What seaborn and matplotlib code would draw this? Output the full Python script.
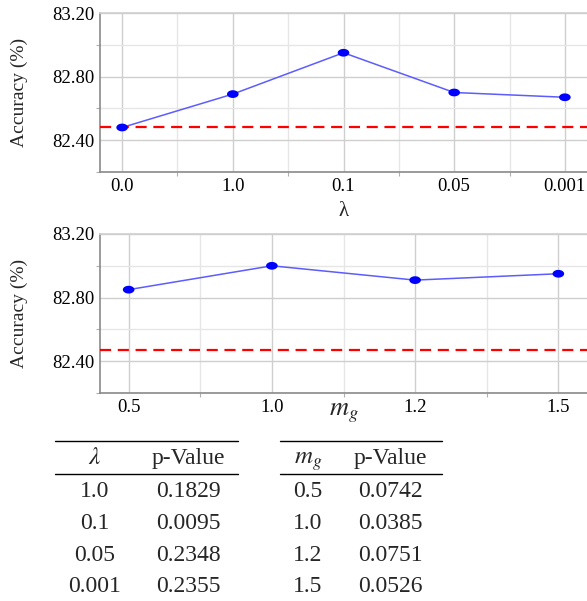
import numpy as np
import pandas as pd
import seaborn as sns
import matplotlib
matplotlib.use("Agg")
import matplotlib.pyplot as plt

# data
lam_labels = ["0.0", "1.0", "0.1", "0.05", "0.001"]
lam_acc = [82.48, 82.69, 82.95, 82.70, 82.67]
lam_base = 82.48

mg_labels = ["0.5", "1.0", "1.2", "1.5"]
mg_acc = [82.85, 83.00, 82.91, 82.95]
mg_base = 82.47

lam_p_labels = ["1.0", "0.1", "0.05", "0.001"]
lam_p = ["0.1829", "0.0095", "0.2348", "0.2355"]
mg_p_labels = ["0.5", "1.0", "1.2", "1.5"]
mg_p = ["0.0742", "0.0385", "0.0751", "0.0526"]

sns.set_theme(style="white")
plt.rcParams["font.family"] = ["Liberation Serif", "DejaVu Serif"]
plt.rcParams["mathtext.fontset"] = "stix"

# ellipse-shaped marker like the original
t = np.linspace(0, 2 * np.pi, 40)
ell = list(zip(1.5 * np.cos(t), np.sin(t)))

W, H = 587, 601
fig = plt.figure(figsize=(W / 100, H / 100), dpi=100)


def panel(rect, labels, acc, base, xlabel, xfs, label_y, xmax):
    ax = fig.add_axes(rect)
    df = pd.DataFrame({"x": labels, "acc": acc})
    sns.lineplot(data=df, x="x", y="acc", ax=ax, color="#5c5cff", lw=1.1, sort=False)
    sns.scatterplot(data=df, x="x", y="acc", ax=ax, color="#0000ff", marker=ell,
                    s=70, edgecolor="none", zorder=4)
    ax.axhline(base, color="#ff0000", ls=(0, (5, 3)), lw=1.6, zorder=3)
    ax.set_yticks([82.4, 82.8, 83.2])
    ax.set_yticklabels(["82.40", "82.80", "83.20"])
    ax.set_yticks([82.2, 82.6, 83.0], minor=True)
    ax.set_xticks(np.arange(len(labels)) + 0.5, minor=True)
    ax.set_xlim(-0.2, xmax)
    ax.set_ylim(82.2, 83.2)
    ax.grid(True, which="major", color="#cfcfcf", lw=1.0)
    ax.grid(True, which="minor", color="#e6e6e6", lw=1.0)
    ax.set_axisbelow(True)
    ax.tick_params(which="major", length=0, labelsize=13.5, pad=4, colors="black")
    ax.tick_params(which="minor", length=3, width=0.8, color="#b0b0b0")
    ax.tick_params(axis="both", which="both", bottom=True, left=True, direction="out")
    for s in ["left", "bottom"]:
        ax.spines[s].set_color("#8a8a8a")
        ax.spines[s].set_linewidth(1.2)
    ax.spines["top"].set_color("#d0d0d0")
    ax.spines["right"].set_visible(False)
    ax.set_ylabel("Accuracy (%)", fontsize=14, labelpad=6)
    ax.yaxis.set_label_coords(-0.148, 0.5)
    ax.set_xlabel(xlabel, fontsize=xfs)
    ax.xaxis.set_label_coords(0.5, label_y)
    ax.xaxis.label.set_va("center")
    return ax


panel([100 / W, 1 - 172 / H, 487 / W, 159 / H], lam_labels, lam_acc, lam_base,
      "λ", 15, -0.25, 4.2)
panel([100 / W, 1 - 393 / H, 487 / W, 159 / H], mg_labels, mg_acc, mg_base,
      "$m_g$", 19, -0.13, 3.2)

# tables
tab = fig.add_axes([0, 0, 1, 176 / H])
tab.set_xlim(0, W)
tab.set_ylim(601, 425)
tab.axis("off")

fs = 17
row_y = [497, 529, 561, 592]


def table(x0, x1, c1, c2, head1, col1, col2):
    tab.plot([x0, x1], [441, 441], color="black", lw=1.0)
    tab.plot([x0, x1], [474, 474], color="black", lw=1.0)
    tab.text(c1, 464, head1, ha="center", va="baseline", fontsize=fs + 1)
    tab.text(c2, 464, "p-Value", ha="center", va="baseline", fontsize=fs)
    for y, a, b in zip(row_y, col1, col2):
        tab.text(c1, y, a, ha="center", va="baseline", fontsize=fs)
        tab.text(c2, y, b, ha="center", va="baseline", fontsize=fs)


table(55, 238, 95, 188, r"$\lambda$", lam_p_labels, lam_p)
table(280, 442, 308, 390, "$m_g$", mg_p_labels, mg_p)

fig.savefig("out.png", dpi=100)
